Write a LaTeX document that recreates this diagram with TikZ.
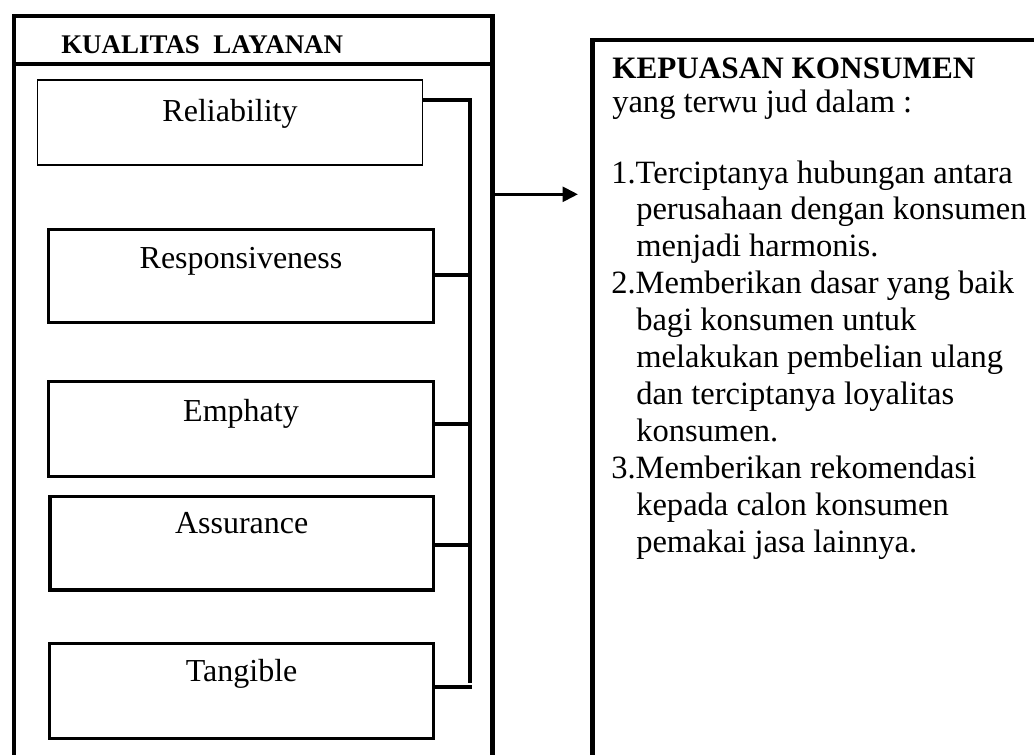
\documentclass[tikz,border=0pt]{standalone}
\usepackage{fontspec}
\setmainfont{Liberation Serif}
\usetikzlibrary{arrows.meta,calc}
\begin{document}
\begin{tikzpicture}[x=0.75pt,y=-0.75pt,
  heavy/.style={line width=3.4pt, line join=miter},
  boxline/.style={draw, line width=2.3pt, rectangle, minimum width=288.75pt, inner sep=0pt},
  conn/.style={line width=2.3pt},
  lbl/.style={font=\fontsize{24}{28}\selectfont, anchor=base, inner sep=0pt},
  txt/.style={font=\fontsize{24.4}{28}\selectfont, anchor=base west, inner sep=0pt}]
\useasboundingbox (0,0) rectangle (1034,754);
\clip (0,0) rectangle (1034,754);

% outer left frame (KUALITAS LAYANAN)
\draw[heavy] (14,775) -- (14,15.8) -- (492.5,15.8) -- (492.5,775);
\draw[heavy] (14,64.2) -- (492.5,64.2);
\node[txt, font=\bfseries\fontsize{20.2}{23}\selectfont] (kl) at (61,53.3) {KUALITAS\ \ LAYANAN};

% dimension boxes
\node[boxline, line width=1pt, minimum height=63.75pt] (rel) at (230,122.5) {};
\node[boxline, minimum height=69.75pt] (resp) at (241,275.7) {};
\node[boxline, minimum height=71.25pt] (emp) at (241,429) {};
\node[boxline, minimum width=287.6pt, minimum height=70pt] (ass) at (241.7,543.3) {};
\node[boxline, minimum width=288pt, minimum height=71.25pt] (tan) at (241.6,690.8) {};

\node[lbl] (relT) at ($(rel.north)+(0,42)$) {Reliability};
\node[lbl] (respT) at ($(resp.north)+(0,41)$) {Responsiveness};
\node[lbl] (empT) at ($(emp.north)+(0,41.5)$) {Emphaty};
\node[lbl] (assT) at ($(ass.north)+(0,38.3)$) {Assurance};
\node[lbl] (tanT) at ($(tan.north)+(0,39.7)$) {Tangible};

% bus connectors
\coordinate (b1) at (470,100);
\coordinate (bend) at (470,683);
\coordinate (b2) at (470,275);
\coordinate (b3) at (470,424);
\coordinate (b4) at (470,545);
\coordinate (b5) at (471.5,687);
\draw[conn, line join=miter] (rel.east |- b1) -- (b1) -- (bend);
\draw[conn] (resp.east |- b2) -- (b2);
\draw[conn] (emp.east |- b3) -- (b3);
\draw[conn] (ass.east |- b4) -- (b4);
\draw[conn] (tan.east |- b5) -- (b5);

% arrow to the right frame
\coordinate (arS) at (492.5,194.3);
\coordinate (arE) at (578,194.3);
\draw[line width=2.5pt, -{Triangle[length=11.5pt,width=11pt]}] (arS) -- (arE);

% right frame (KEPUASAN KONSUMEN)
\draw[heavy] (592.5,775) -- (592.5,40) -- (1050,40);
\node[txt, font=\bfseries\fontsize{23.4}{28}\selectfont] (kt) at (612,78) {KEPUASAN KONSUMEN};
\node[txt] (sub) at (612,112) {yang terwu jud dalam :};
\foreach \xx/\yy/\tt [count=\i] in {
  611/183/{1.Terciptanya hubungan antara},
  636/219.9/{perusahaan dengan konsumen},
  636/256.8/{menjadi harmonis.},
  611/293.7/{2.Memberikan dasar yang baik},
  636/330.6/{bagi konsumen untuk},
  636/367.5/{melakukan pembelian ulang},
  636/404.4/{dan terciptanya loyalitas},
  636/441.3/{konsumen.},
  611/478.2/{3.Memberikan rekomendasi},
  636/515.1/{kepada calon konsumen},
  636/552/{pemakai jasa lainnya.}}
  \node[txt] (ln\i) at (\xx,\yy) {\tt};
\end{tikzpicture}
\end{document}
